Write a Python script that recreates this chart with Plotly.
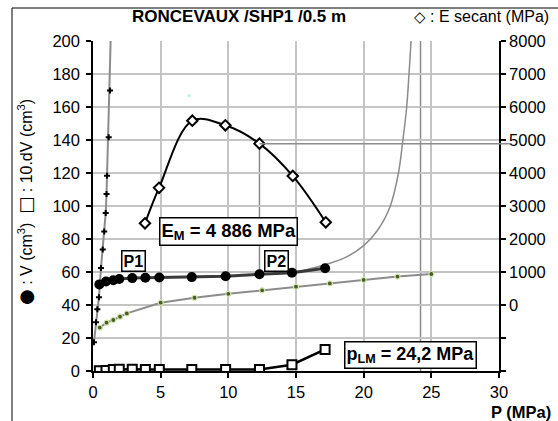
import plotly.graph_objects as go

FONT = "Liberation Sans, Arial, sans-serif"

# ---- data ----
# steep calibration-like curve (small + markers)
P_steep = [0.07, 0.22, 0.32, 0.44, 0.59, 0.72, 0.83, 0.94, 1.00, 1.04, 1.16, 1.26]
V_steep = [17.4, 29.5, 37.4, 44.7, 62.5, 73.7, 84.5, 95.8, 107.3, 118.3, 141.6, 170.0]
P_steep_ext = [1.33, 1.40]
V_steep_ext = [200.0, 230.0]

# pressuremeter stages
P_stage = [0.47, 0.96, 1.5, 1.94, 2.9, 3.87, 4.9, 7.3, 9.8, 12.3, 14.7, 17.15]
V_circ = [52.5, 54.2, 55.0, 55.8, 56.3, 56.5, 56.7, 56.9, 57.4, 58.6, 59.6, 62.3]
dV10 = [0.2, 0.3, 0.9, 1.0, 1.0, 0.9, 0.9, 0.9, 0.9, 0.9, 3.8, 13.1]

# E secant (MPa), right axis
P_E = [3.84, 4.88, 7.34, 9.78, 12.3, 14.76, 17.2]
E_sec = [2475, 3550, 5585, 5445, 4890, 3910, 2505]

# lower grey curve with small green points
P_green = [0.5, 1.0, 1.5, 2.0, 2.5, 5.0, 7.5, 10, 12.5, 15, 17.5, 20, 22.5, 25]
V_green = [26.3, 29.3, 30.9, 32.9, 34.9, 41.4, 44.4, 46.8, 48.9, 51.1, 53.1, 55.2, 57.2, 58.8]

# asymptotic grey curve
P_asym = [12.3, 14.8, 17.2, 18.7, 20.0, 21.0, 21.95, 22.57, 22.9, 23.18, 23.35, 23.5, 23.6]
V_asym = [58.5, 59.8, 64.5, 69.0, 76.0, 85.0, 99.6, 120.0, 140.0, 160.0, 180.0, 200.0, 220.0]

# stray point
P_dot = [7.1]
V_dot = [166.8]

EM = 4886      # MPa
PLM = 24.2     # MPa
P_EM = 12.3

x_ticks = [0, 5, 10, 15, 20, 25, 30]
y_ticks = [0, 20, 40, 60, 80, 100, 120, 140, 160, 180, 200]
y2_ticks = [0, 1000, 2000, 3000, 4000, 5000, 6000, 7000, 8000]
y2_minor = [-2000, -1000]

TICK = 16.5
GLYPH = 'font-family:DejaVu Sans;'

# ---- figure ----
fig = go.Figure()

fig.add_trace(go.Scatter(x=P_steep + P_steep_ext, y=V_steep + V_steep_ext, mode="lines",
                         line=dict(color="#8c8c8c", width=2), hoverinfo="skip"))
fig.add_trace(go.Scatter(x=P_steep, y=V_steep, mode="markers",
                         marker=dict(symbol="cross", size=5, color="black")))

fig.add_trace(go.Scatter(x=P_green, y=V_green, mode="lines+markers",
                         line=dict(color="#8c8c8c", width=2),
                         marker=dict(symbol="circle", size=5, color="#4a5a2a",
                                     line=dict(color="#cfe6a6", width=1.2))))

fig.add_trace(go.Scatter(x=P_asym, y=V_asym, mode="lines",
                         line=dict(color="#8c8c8c", width=1.5, shape="spline")))

fig.add_trace(go.Scatter(x=P_stage, y=V_circ, mode="lines+markers",
                         line=dict(color="#3a3a3a", width=3),
                         marker=dict(symbol="circle", size=10, color="black")))

fig.add_trace(go.Scatter(x=P_stage, y=dV10, mode="lines",
                         line=dict(color="black", width=2.5)))
fig.add_trace(go.Scatter(x=P_stage, y=dV10, mode="markers",
                         marker=dict(symbol="square", size=9, color="white",
                                     line=dict(color="black", width=2))))

fig.add_trace(go.Scatter(x=P_E, y=E_sec, yaxis="y2", mode="lines+markers",
                         line=dict(color="black", width=2, shape="spline"),
                         marker=dict(symbol="diamond", size=8, color="white",
                                     line=dict(color="black", width=2))))

fig.add_trace(go.Scatter(x=P_dot, y=V_dot, mode="markers",
                         marker=dict(size=3, color="#aef0f0")))

# reference lines: pLM vertical, EM horizontal + vertical drop
shapes = [
    dict(type="line", xref="x", yref="y", x0=PLM, x1=PLM, y0=0, y1=200,
         line=dict(color="#8c8c8c", width=1.5), layer="below"),
    dict(type="line", xref="x", yref="y2", x0=P_EM, x1=P_EM, y0=V_circ[9] * 50 - 2000, y1=EM,
         line=dict(color="#8c8c8c", width=1.5), layer="below"),
    dict(type="line", xref="paper", yref="y2", x0=P_EM / 30.0, x1=1.027, y0=EM, y1=EM,
         line=dict(color="#8c8c8c", width=1.5)),
    # chart frame
    dict(type="line", xref="paper", yref="paper", x0=-0.1995, x1=-0.1995, y0=1.1, y1=-0.2,
         line=dict(color="black", width=1)),
    dict(type="line", xref="paper", yref="paper", x0=-0.1995, x1=1.2, y0=1.1, y1=1.1,
         line=dict(color="black", width=1)),
]

def box(text, x, y, size):
    return dict(text=text, x=x, y=y, xref="x", yref="y", showarrow=False,
                font=dict(family=FONT, size=size, color="black"),
                bgcolor="white", bordercolor="black", borderwidth=1.5, borderpad=1,
                xanchor="center", yanchor="middle")

annotations = [
    box("<b>E<sub>M</sub> = 4 886 MPa</b>", 10.0, 84.5, 18.5),
    box("<b>P1</b>", 3.0, 66.6, 16),
    box("<b>P2</b>", 13.55, 66.8, 16),
    box("<b>p<sub>LM</sub> = 24,2 MPa</b>", 23.45, 10.0, 18),
    dict(text="<b>RONCEVAUX /SHP1 /0.5 m</b>", xref="paper", yref="paper",
         x=(239 - 93) / 406, y=(371 - 17) / 330, showarrow=False,
         font=dict(family=FONT, size=17, color="black"), xanchor="center", yanchor="middle"),
    dict(text='<span style="' + GLYPH + 'font-size:15px;font-weight:bold">◇</span> : E secant (MPa)',
         xref="paper", yref="paper",
         x=(481 - 93) / 406, y=(371 - 17) / 330, showarrow=False,
         font=dict(family=FONT, size=16, color="black"), xanchor="center", yanchor="middle"),
    dict(text="<b>P (MPa)</b>", xref="paper", yref="paper",
         x=(553 - 93) / 406, y=(371 - 412) / 330, showarrow=False,
         font=dict(family=FONT, size=16.5, color="black"), xanchor="right", yanchor="middle"),
    dict(text='<span style="' + GLYPH + 'font-size:18px">●</span> : V (cm<sup>3</sup>)  '
              '<span style="' + GLYPH + 'font-size:18px">□</span> : 10.dV (cm<sup>3</sup>)',
         xref="paper", yref="paper",
         x=(25 - 93) / 406, y=(371 - 202) / 330, showarrow=False, textangle=-90,
         font=dict(family=FONT, size=16, color="black"), xanchor="center", yanchor="middle"),
]

fig.update_layout(
    width=558, height=421, autosize=False,
    margin=dict(l=93, r=59, t=41, b=50),
    paper_bgcolor="white", plot_bgcolor="white",
    showlegend=False,
    font=dict(family=FONT, size=TICK, color="black"),
    xaxis=dict(range=[0, 30], tickvals=x_ticks, ticks="outside", ticklen=5,
               tickcolor="black", tickwidth=1.5,
               showline=True, linecolor="black", linewidth=1.5,
               showgrid=True, gridcolor="#c4c4c4", gridwidth=1.5, zeroline=False,
               tickfont=dict(family=FONT, size=TICK)),
    yaxis=dict(range=[0, 200], tickvals=y_ticks, ticks="outside", ticklen=5,
               tickcolor="black", tickwidth=1.5,
               showline=True, linecolor="black", linewidth=1.5,
               showgrid=True, gridcolor="#c4c4c4", gridwidth=1.5, zeroline=False,
               tickfont=dict(family=FONT, size=TICK), ticklabelstandoff=3),
    yaxis2=dict(range=[-2000, 8000], tickvals=y2_ticks, overlaying="y",
                side="right", ticks="outside", ticklen=5, tickcolor="black", tickwidth=1.5,
                minor=dict(tickvals=y2_minor, ticks="outside", ticklen=5,
                           tickcolor="black", tickwidth=1.5, showgrid=False),
                showline=True, linecolor="black", linewidth=1.5,
                showgrid=False, zeroline=False, tickfont=dict(family=FONT, size=TICK)),
    shapes=shapes,
    annotations=annotations,
)

fig.write_html("out.html")
